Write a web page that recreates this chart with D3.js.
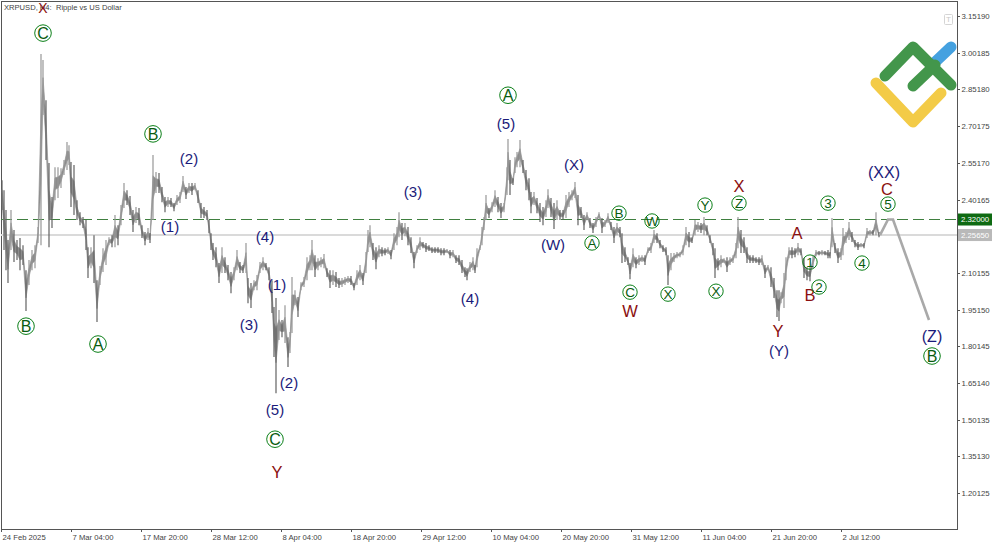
<!DOCTYPE html>
<html><head><meta charset="utf-8">
<script src="https://cdn.jsdelivr.net/npm/d3@7"></script>
<style>html,body{margin:0;padding:0;background:#fff}svg{display:block}</style></head>
<body><div id="c"></div>
<script>
const title = "XRPUSD, H4:  Ripple vs US Dollar";
const tickPrices = [3.15190,3.00185,2.85180,2.70175,2.55170,2.40165,2.25160,2.10155,1.95150,1.80145,1.65140,1.50135,1.35130,1.20125];
const timeTicks = [0,70,140,210,280,350,420,490,560,630,700,770,840];
const timeLabels = ["24 Feb 2025","7 Mar 04:00","17 Mar 20:00","28 Mar 12:00","8 Apr 04:00","18 Apr 20:00","29 Apr 12:00","10 May 04:00","20 May 20:00","31 May 12:00","11 Jun 04:00","21 Jun 20:00","2 Jul 12:00"];
const resistance = 2.32000, lastPrice = 2.25650;
const bars = [1,3,5,7,10,13,16,19,22,25,28,31,34,37,40,42,45,48,51,54,57,60,63,66,68,70,73,76,79,82,85,87,90,93,96,99,102,105,108,111,114,117,120,123,126,129,132,135,138,141,144,147,149,152,155,158,161,164,167,170,173,176,179,182,185,188,191,194,197,200,203,206,208,210,212,215,218,221,224,227,230,233,236,239,242,245,247,250,253,256,259,262,265,268,271,273,275,278,281,284,287,289,291,294,297,300,303,306,309,311,314,317,320,323,326,329,332,335,338,341,344,347,350,353,356,359,362,365,367,369,372,375,378,381,384,387,390,393,396,398,401,404,407,410,413,416,419,422,425,428,431,434,437,440,443,446,449,452,455,458,461,464,466,469,472,474,476,479,481,483,485,488,491,494,497,500,503,506,507,509,512,514,516,519,522,525,528,530,533,536,539,542,545,547,550,553,556,559,562,565,568,571,574,577,580,583,586,589,592,595,598,601,604,607,610,613,616,619,621,624,627,629,632,635,638,641,644,647,650,653,656,659,662,665,667,670,673,676,679,682,685,688,691,694,697,700,703,706,709,712,714,717,720,723,726,729,732,735,737,740,743,746,749,752,755,758,761,764,767,770,773,776,778,780,783,785,788,791,794,797,800,803,806,809,812,815,818,821,824,827,829,831,834,837,840,842,845,848,851,854,857,860,863,866,869,872,875,878];
const highs = [2.481,2.440,2.359,2.236,2.359,2.277,2.236,2.244,2.215,2.113,2.154,2.195,2.215,2.289,2.997,2.972,2.808,2.551,2.412,2.534,2.534,2.530,2.563,2.637,2.624,2.555,2.543,2.399,2.350,2.330,2.318,2.207,2.207,2.256,2.072,2.130,2.203,2.236,2.248,2.256,2.338,2.297,2.379,2.469,2.440,2.416,2.359,2.371,2.367,2.297,2.269,2.285,2.265,2.584,2.514,2.510,2.453,2.412,2.412,2.408,2.387,2.420,2.432,2.498,2.453,2.469,2.469,2.469,2.440,2.387,2.371,2.359,2.318,2.264,2.224,2.207,2.142,2.207,2.166,2.134,2.105,2.125,2.195,2.146,2.134,2.224,2.081,2.060,2.072,2.093,2.146,2.166,2.142,2.125,2.072,1.962,1.999,1.950,1.909,1.970,1.839,1.860,2.085,2.031,2.003,2.064,2.085,2.166,2.174,2.236,2.174,2.162,2.166,2.179,2.121,2.113,2.113,2.105,2.081,2.081,2.085,2.089,2.089,2.060,2.113,2.134,2.101,2.187,2.277,2.297,2.224,2.207,2.215,2.207,2.203,2.207,2.195,2.264,2.289,2.350,2.306,2.306,2.289,2.248,2.187,2.215,2.248,2.228,2.224,2.215,2.207,2.207,2.207,2.203,2.203,2.199,2.195,2.195,2.174,2.174,2.154,2.125,2.121,2.146,2.166,2.134,2.203,2.215,2.289,2.330,2.420,2.367,2.391,2.440,2.412,2.387,2.387,2.534,2.649,2.563,2.489,2.575,2.596,2.645,2.563,2.522,2.489,2.432,2.432,2.408,2.387,2.371,2.399,2.444,2.408,2.387,2.399,2.359,2.359,2.420,2.432,2.440,2.473,2.420,2.371,2.338,2.350,2.326,2.306,2.330,2.350,2.326,2.318,2.346,2.310,2.289,2.306,2.289,2.264,2.207,2.166,2.142,2.203,2.166,2.174,2.174,2.174,2.207,2.224,2.277,2.264,2.236,2.215,2.207,2.174,2.183,2.183,2.187,2.187,2.215,2.289,2.269,2.248,2.318,2.310,2.306,2.330,2.297,2.256,2.224,2.203,2.162,2.174,2.162,2.166,2.166,2.174,2.224,2.330,2.277,2.248,2.207,2.174,2.174,2.166,2.166,2.174,2.134,2.134,2.125,2.081,2.031,2.031,2.023,2.101,2.166,2.207,2.207,2.203,2.224,2.203,2.162,2.125,2.125,2.174,2.195,2.191,2.195,2.191,2.195,2.187,2.326,2.224,2.203,2.203,2.285,2.269,2.310,2.269,2.236,2.228,2.224,2.224,2.285,2.277,2.277,2.350,2.269];
const lows = [2.359,2.195,2.113,2.060,2.195,2.146,2.154,2.113,2.134,1.946,2.052,2.113,2.121,2.224,2.215,2.747,2.563,2.207,2.285,2.399,2.408,2.449,2.502,2.522,2.543,2.371,2.338,2.318,2.297,2.285,2.195,2.081,2.121,2.060,1.901,2.052,2.105,2.134,2.215,2.207,2.207,2.215,2.297,2.367,2.379,2.338,2.269,2.306,2.297,2.244,2.215,2.236,2.224,2.318,2.428,2.428,2.391,2.350,2.371,2.371,2.354,2.379,2.387,2.432,2.404,2.428,2.420,2.440,2.387,2.326,2.326,2.318,2.264,2.195,2.154,2.125,2.060,2.101,2.101,2.072,2.019,2.072,2.113,2.101,2.101,2.101,1.978,1.958,2.031,2.031,2.101,2.113,2.113,2.072,1.938,1.758,1.610,1.827,1.839,1.815,1.717,1.774,1.856,1.970,1.921,2.031,2.044,2.072,2.113,2.113,2.085,2.113,2.125,2.121,2.085,2.040,2.052,2.044,2.040,2.044,2.052,2.060,2.052,2.031,2.052,2.072,2.052,2.101,2.187,2.207,2.154,2.117,2.166,2.170,2.174,2.179,2.158,2.195,2.215,2.248,2.236,2.252,2.215,2.183,2.121,2.183,2.195,2.203,2.187,2.191,2.183,2.183,2.183,2.174,2.174,2.183,2.162,2.166,2.142,2.134,2.101,2.085,2.072,2.105,2.113,2.101,2.125,2.195,2.215,2.277,2.318,2.326,2.350,2.371,2.350,2.326,2.350,2.420,2.481,2.420,2.461,2.510,2.534,2.534,2.510,2.440,2.399,2.346,2.379,2.346,2.310,2.297,2.330,2.367,2.330,2.281,2.318,2.318,2.318,2.326,2.371,2.399,2.408,2.297,2.326,2.277,2.318,2.285,2.265,2.289,2.326,2.265,2.289,2.306,2.277,2.224,2.256,2.248,2.142,2.146,2.134,2.076,2.125,2.121,2.134,2.146,2.134,2.183,2.183,2.224,2.224,2.203,2.187,2.174,2.052,2.113,2.146,2.162,2.166,2.174,2.215,2.207,2.224,2.256,2.269,2.265,2.256,2.256,2.224,2.174,2.081,2.113,2.125,2.142,2.105,2.134,2.142,2.162,2.203,2.183,2.183,2.142,2.142,2.142,2.142,2.134,2.134,2.081,2.113,2.044,1.999,1.921,1.905,1.978,1.958,2.072,2.162,2.162,2.166,2.174,2.174,2.081,2.072,2.068,2.121,2.170,2.174,2.174,2.174,2.162,2.162,2.207,2.183,2.142,2.154,2.174,2.224,2.236,2.228,2.207,2.195,2.207,2.203,2.244,2.256,2.256,2.256,2.248];
const forecastBars = [879,887,892,928];
const forecastPrices = [2.256,2.320,2.320,1.909];
// Elliott-wave labels: text, bar position, price level
const circledBigText = ["C","B","A","B","C","A","B"];
const circledBigBar = [42,152,97,25,274,507,931];
const circledBigPrice = [3.082,2.670,1.811,1.884,1.422,2.828,1.762];
const circledSmallText = ["A","B","W","C","X","X","Y","Z","1","2","3","4","5"];
const circledSmallBar = [591,618,651,629,667,715,704,738,809,818,827,861,887];
const circledSmallPrice = [2.224,2.346,2.314,2.023,2.015,2.027,2.379,2.387,2.146,2.044,2.387,2.142,2.383];
const navyText = ["(1)","(2)","(3)","(4)","(1)","(2)","(5)","(3)","(4)","(5)","(W)","(X)","(Y)"];
const navyBar = [169,188,248,264,276,288,274,412,469,505,552,573,778];
const navyPrice = [2.293,2.571,1.892,2.252,2.052,1.652,1.541,2.436,1.995,2.714,2.216,2.543,1.786];
const redText = ["Y","W","X","A","B","Y","C"];
const redBar = [276,629,738,796,809,777,886];
const redPrice = [1.287,1.944,2.457,2.265,2.011,1.864,2.444];
const headerCross = {text:"X",bar:42,price:3.1846};
const bigNavyText = ["(XX)","(Z)"];
const bigNavyBar = [883,931];
const bigNavyPrice = [2.514,1.843];

const W=1000,H=545;
const plot={l:1,r:957,t:1,b:529};
const font='"Liberation Sans",Arial,sans-serif';
const x=d3.scaleLinear().domain([0,956]).range([plot.l,plot.r]);
const y=d3.scaleLinear().domain([3.15190,1.20125]).range([16,493.2]);
const svg=d3.select('#c').append('svg').attr('width',W).attr('height',H).attr('font-family',font);

svg.append('rect').attr('x',plot.l).attr('y',plot.t).attr('width',plot.r-plot.l).attr('height',plot.b-plot.t)
  .attr('fill','#fff').attr('stroke','#555').attr('stroke-width',1).attr('shape-rendering','crispEdges');

// level lines
svg.append('line').attr('x1',plot.l).attr('x2',plot.r).attr('y1',y(lastPrice)).attr('y2',y(lastPrice))
  .attr('stroke','#dadada').attr('stroke-width',2);
svg.append('line').attr('x1',plot.l).attr('x2',plot.r).attr('y1',y(resistance)).attr('y2',y(resistance))
  .attr('stroke','#3f7f3f').attr('stroke-width',1).attr('stroke-dasharray','11,5').attr('shape-rendering','crispEdges');

// price bars
const series=bars.map((b,i)=>({b,hi:highs[i],lo:lows[i],mid:(highs[i]+lows[i])/2}));
series.forEach((d,i)=>{d.up=i>0&&d.mid>series[i-1].mid;});
svg.append('path').datum(series)
  .attr('d',d3.area().x(d=>x(d.b)).y0(d=>y(d.lo-(d.lo-d.hi)*0.32)).y1(d=>y(d.hi+(d.lo-d.hi)*0.32)))
  .attr('fill','#8c8c8c').attr('stroke','#949494').attr('stroke-width',0.7);
svg.append('g').selectAll('line').data(series).join('line')
  .attr('x1',d=>x(d.b)).attr('x2',d=>x(d.b)).attr('y1',d=>y(d.hi)).attr('y2',d=>y(d.lo))
  .attr('stroke',d=>d.up?'#979797':'#626262').attr('stroke-width',1.2);
svg.append('path').datum(forecastBars.map((b,i)=>[b,forecastPrices[i]]))
  .attr('d',d3.line().x(d=>x(d[0])).y(d=>y(d[1])))
  .attr('fill','none').attr('stroke','#a9a9a9').attr('stroke-width',2.6);

// axes
const ax=svg.append('g').attr('transform',`translate(${plot.r},0)`)
  .call(d3.axisRight(y).tickValues(tickPrices).tickFormat(d3.format('.5f')).tickSize(3).tickPadding(1.5));
const bx=svg.append('g').attr('transform',`translate(0,${plot.b})`)
  .call(d3.axisBottom(x).tickValues(timeTicks).tickFormat((d,i)=>timeLabels[i]).tickSize(3).tickPadding(3));
[ax,bx].forEach(g=>{g.select('.domain').remove();g.selectAll('line').attr('stroke','#555').attr('shape-rendering','crispEdges');
  g.selectAll('text').attr('fill','#444').attr('font-size','7.8px').attr('font-family',font);});
bx.selectAll('text').attr('text-anchor','start').attr('dx','1').attr('font-size','7.7px');

// price boxes
[[resistance,'#0e6a12','#fff'],[lastPrice,'#b9b9b9','#fff']].forEach(([p,bg,fg])=>{
  const g=svg.append('g').attr('transform',`translate(${plot.r+1},${y(p)})`);
  g.append('rect').attr('x',0).attr('y',-6).attr('width',34).attr('height',12).attr('fill',bg);
  g.append('text').attr('x',3).attr('y',0).attr('dy','0.35em').attr('fill',fg).attr('font-size','7.8px').text(d3.format('.5f')(p));
});

// title
svg.append('text').attr('x',4).attr('y',7.5).attr('dy','0.35em').attr('font-size','7.6px').attr('fill','#444').attr('xml:space','preserve').style('white-space','pre').text(title);

// T button
svg.append('rect').attr('x',944.5).attr('y',14.5).attr('width',8).attr('height',10).attr('fill','#fff').attr('stroke','#d5d5d5').attr('rx',1);
svg.append('text').attr('x',948.5).attr('y',19.5).attr('dy','0.35em').attr('text-anchor','middle').attr('font-size','8px').attr('fill','#c8c8c8').text('T');

// logo
const logo=svg.append('g').attr('fill','none').attr('stroke-linecap','round').attr('stroke-linejoin','round').attr('stroke-width',11);
logo.append('path').attr('d','M932,65L951,47').attr('stroke','#45a1e0');
logo.append('path').attr('d','M876,83L913,122L941,93').attr('stroke','#f3cb47');
logo.append('path').attr('d','M885,76L913,47L951,85M913,86L935,65').attr('stroke','#43964b');

// labels
function plain(texts,bs,ps,color,size){
  svg.append('g').selectAll('text').data(texts).join('text')
   .attr('x',(d,i)=>x(bs[i])).attr('y',(d,i)=>y(ps[i])).attr('dy','0.36em')
   .attr('text-anchor','middle').attr('fill',color).attr('font-size',size+'px').text(d=>d);
}
function circled(texts,bs,ps,r,size){
  const g=svg.append('g').selectAll('g').data(texts).join('g')
    .attr('transform',(d,i)=>`translate(${x(bs[i])},${y(ps[i])})`);
  g.append('circle').attr('r',r).attr('fill','none').attr('stroke','#0b7f18').attr('stroke-width',1);
  g.append('text').attr('dy','0.36em').attr('text-anchor','middle').attr('fill','#0a5c10').attr('font-size',size+'px').text(d=>d);
}
plain(navyText,navyBar,navyPrice,'#1a1a7a',15);
plain(bigNavyText,bigNavyBar,bigNavyPrice,'#1a1a7a',16);
plain(redText,redBar,redPrice,'#8b1010',16.5);
plain([headerCross.text],[headerCross.bar],[headerCross.price],'#8b1010',14);
circled(circledBigText,circledBigBar,circledBigPrice,8.3,16);
circled(circledSmallText,circledSmallBar,circledSmallPrice,7.2,13.5);
</script></body></html>
